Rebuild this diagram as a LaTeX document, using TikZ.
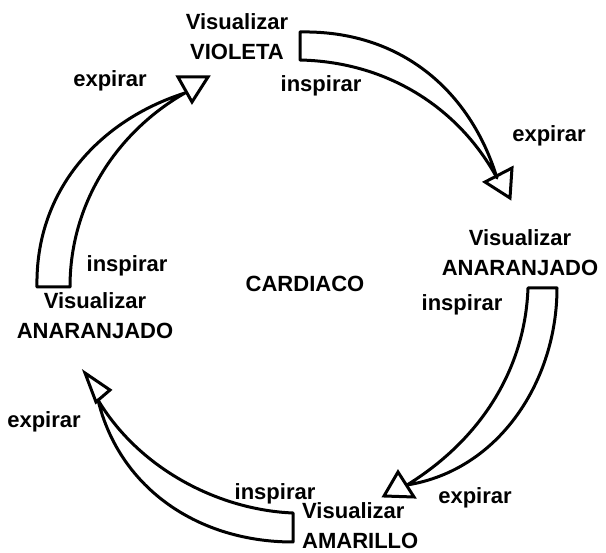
\documentclass[tikz,border=0pt]{standalone}
\usepackage{fontspec}
\newfontfamily\lblfont{Liberation Sans Bold}
\usetikzlibrary{calc,positioning}

\begin{document}
\begin{tikzpicture}[x=1pt,y=-1pt,
    lbl/.style={font={\lblfont\fontsize{22}{30}\selectfont}, inner sep=0pt},
    band/.style={line width=3pt, line join=round},
    head/.style={line width=3pt, line join=miter}]
  \useasboundingbox (0,0) rectangle (606,553);

  \node[lbl, align=center] (violeta) at (237,37) {Visualizar\\VIOLETA};
  \node[lbl, align=center] (anaright) at (520,253) {Visualizar\\ANARANJADO};
  \node[lbl, align=left, anchor=west] (amarillo) at (302,526) {Visualizar\\AMARILLO};
  \node[lbl, align=center] (analeft) at (95,316) {Visualizar\\ANARANJADO};
  \node[lbl] (cardiaco) at (305,284) {CARDIACO};

  \node[lbl] (insp1) at (321,86) {inspirar};
  \node[lbl] (exp1) at (549,136) {expirar};
  \node[lbl] (insp2) at (462,305) {inspirar};
  \node[lbl] (exp2) at (475,498) {expirar};
  \node[lbl] (insp3) at (275,494) {inspirar};
  \node[lbl] (exp3) at (44,422) {expirar};
  \node[lbl] (insp4) at (127,266) {inspirar};
  \node[lbl] (exp4) at (110,81) {expirar};

  % violeta -> anaranjado
  \coordinate (v1) at (300,32);
  \coordinate (v2) at (300,60);
  \coordinate (vtip) at (497,178);
  \draw[band] (v1) .. controls (400,30) and (470,90) .. (vtip)
    .. controls (460,110) and (390,62) .. (v2) -- cycle;
  \draw[head] (485,182) -- (512,168) -- (510,198) -- cycle;

  % anaranjado -> amarillo
  \coordinate (a1) at (528,288);
  \coordinate (a2) at (557,288);
  \coordinate (atip) at (407,485);
  \draw[band] (a2) .. controls (557,380) and (500,470) .. (atip)
    .. controls (480,440) and (525,370) .. (a1) -- cycle;
  \draw[head] (398,472) -- (384,496) -- (414,497) -- cycle;

  % amarillo -> anaranjado
  \coordinate (m1) at (293,513);
  \coordinate (m2) at (293,542);
  \coordinate (mtip) at (98,400);
  \draw[band] (m1) .. controls (220,510) and (140,470) .. (mtip)
    .. controls (120,490) and (200,542) .. (m2) -- cycle;
  \draw[head] (85,373) -- (110,390) -- (96,402) -- cycle;

  % anaranjado -> violeta
  \coordinate (l1) at (37,287);
  \coordinate (l2) at (70,287);
  \coordinate (ltip) at (185,93);
  \draw[band] (l1) .. controls (35,190) and (100,120) .. (ltip)
    .. controls (120,130) and (70,200) .. (l2) -- cycle;
  \draw[head] (178,77) -- (208,77) -- (192,102) -- cycle;

\end{tikzpicture}
\end{document}
